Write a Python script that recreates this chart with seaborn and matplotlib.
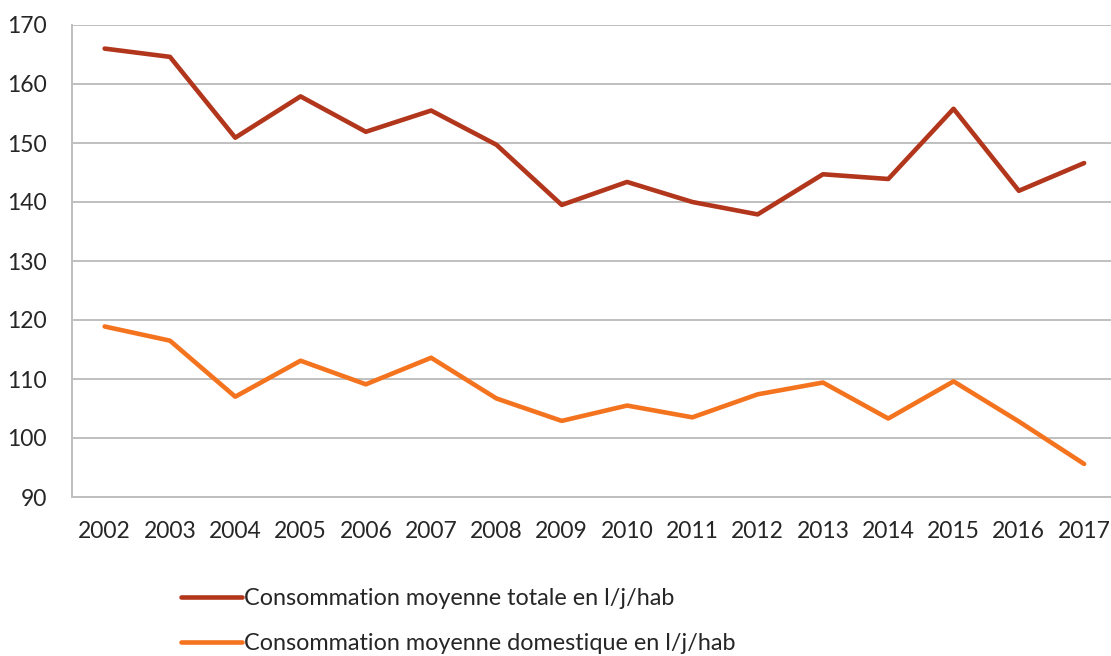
import pandas as pd
import seaborn as sns
import matplotlib.pyplot as plt
from matplotlib.ticker import FixedLocator, MultipleLocator

# Données
annees = [str(a) for a in range(2002, 2018)]
totale = [166, 164.6, 150.9, 157.9, 151.9, 155.5, 149.7, 139.5, 143.4,
          140.0, 137.9, 144.7, 143.9, 155.8, 141.9, 146.6]
domestique = [118.9, 116.5, 107.0, 113.1, 109.1, 113.6, 106.7, 102.9, 105.5,
              103.5, 107.4, 109.4, 103.3, 109.6, 102.8, 95.6]
labels = ["Consommation moyenne totale en l/j/hab",
          "Consommation moyenne domestique en l/j/hab"]
couleurs = ["#B2361C", "#F4731F"]

df = pd.DataFrame({"annee": annees * 2,
                   "valeur": totale + domestique,
                   "serie": [labels[0]] * len(annees) + [labels[1]] * len(annees)})

sns.set_style("white")
plt.rcParams['font.family'] = ['Lato', 'DejaVu Sans']

fig = plt.figure(figsize=(11.11, 6.56), dpi=100)
ax = fig.add_axes([72 / 1111, 1 - 497 / 656, 16 * 65.3 / 1111, (497 - 25) / 656])

sns.lineplot(data=df, x="annee", y="valeur", hue="serie", palette=couleurs,
             linewidth=3.3, ax=ax, legend=False, sort=False)

ax.set_xlim(-0.5, 15.5)
ax.set_ylim(90, 170)
ax.yaxis.set_major_locator(MultipleLocator(10))
ax.set_xticks(range(len(annees)))
ax.set_xticklabels(annees)
ax.xaxis.set_minor_locator(FixedLocator([i - 0.5 for i in range(len(annees) + 1)]))
ax.grid(axis="y", color="#BFBFBF", linewidth=1.4)
ax.set_axisbelow(True)
ax.set_xlabel("")
ax.set_ylabel("")

for s in ["top", "right"]:
    ax.spines[s].set_visible(False)
for s in ["left", "bottom"]:
    ax.spines[s].set_color("#BFBFBF")
    ax.spines[s].set_linewidth(1.4)

ax.tick_params(axis="x", which="major", length=0, pad=17, labelsize=16.5, labelcolor="#262626")
ax.tick_params(axis="x", which="minor", length=8, width=1.4, color="#BFBFBF", direction="out")
ax.tick_params(axis="y", length=8, width=1.4, color="#BFBFBF", pad=10, labelsize=16.5, labelcolor="#262626")

handles = [plt.Line2D([], [], color=c, linewidth=3.3) for c in couleurs]
fig.legend(handles, labels, loc="upper left", bbox_to_anchor=(167 / 1111, 1 - 574 / 656),
           frameon=False, fontsize=16.8, handlelength=2.6, handletextpad=0.1,
           labelspacing=1.05, labelcolor="#262626", borderaxespad=0.2)

fig.savefig("out.png", dpi=100)
